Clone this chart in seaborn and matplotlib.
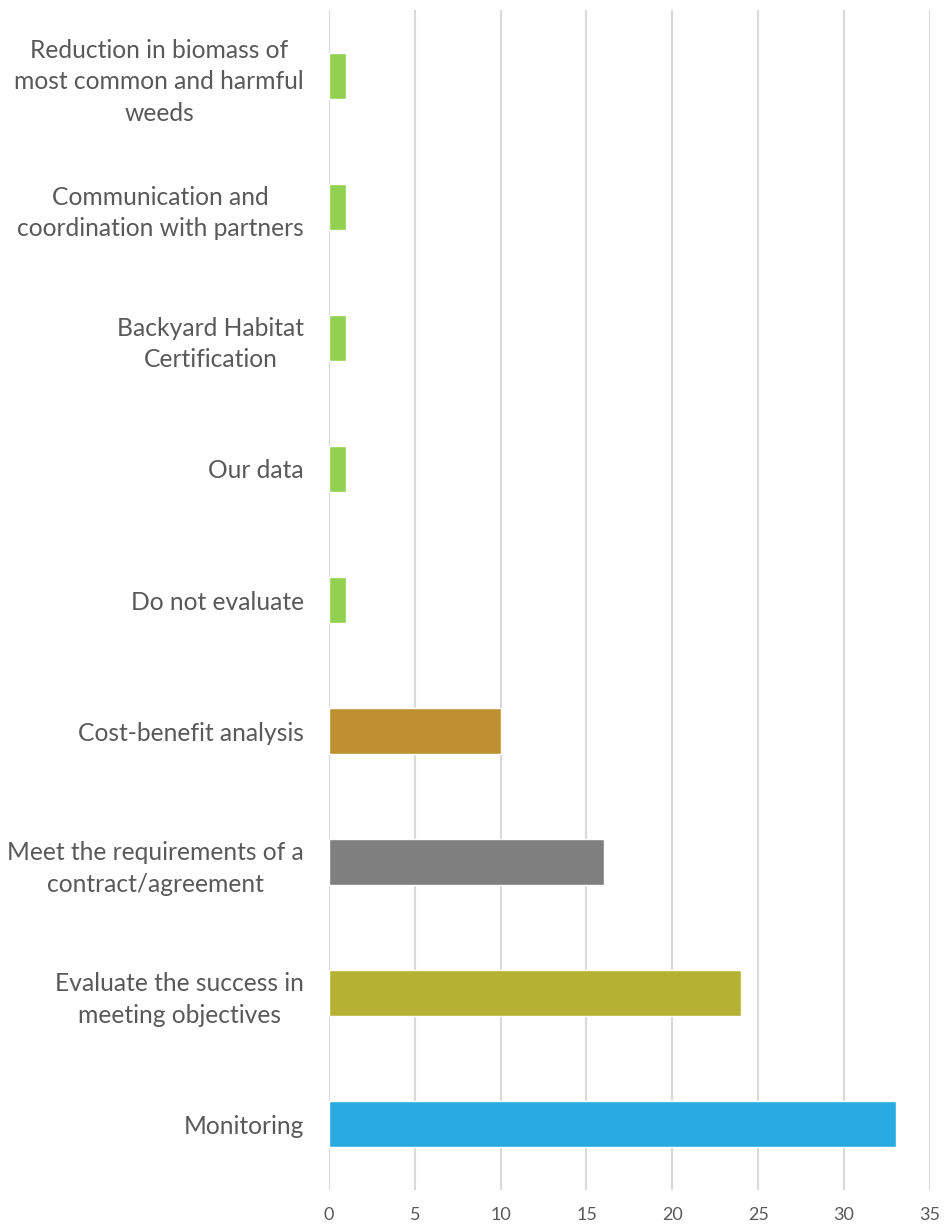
import matplotlib
matplotlib.use("Agg")
import matplotlib.pyplot as plt
import seaborn as sns
import pandas as pd

categories = [
    "Reduction in biomass of\nmost common and harmful\nweeds",
    "Communication and\ncoordination with partners",
    "Backyard Habitat\nCertification",
    "Our data",
    "Do not evaluate",
    "Cost-benefit analysis",
    "Meet the requirements of a\ncontract/agreement",
    "Evaluate the success in\nmeeting objectives",
    "Monitoring",
]
counts = [1, 1, 1, 1, 1, 10, 16, 24, 33]
bar_colors = ["#92D050", "#92D050", "#92D050", "#92D050", "#92D050",
              "#BF9030", "#7F7F7F", "#B5B233", "#29ABE2"]
x_ticks = [0, 5, 10, 15, 20, 25, 30, 35]

sns.set_theme(style="white")
plt.rcParams["font.family"] = ["Lato", "DejaVu Sans"]

df = pd.DataFrame({"category": categories, "count": counts})
palette = dict(zip(categories, bar_colors))

fig = plt.figure(figsize=(9.44, 12.25), dpi=100)
ax = fig.add_axes([0.3485, 0.0286, 0.6365, 0.9632])

sns.barplot(data=df, y="category", x="count", hue="category", palette=palette,
            order=categories, hue_order=categories, orient="h", width=0.35,
            dodge=False, legend=False, saturation=1, ax=ax)

ax.set_xlim(0, 35)
ax.set_ylim(len(categories) - 0.5, -0.5)
ax.set_xticks(x_ticks)
ax.set_xlabel("")
ax.set_ylabel("")
ax.xaxis.grid(True, color="#D9D9D9", linewidth=1.5)
ax.set_axisbelow(True)
for side in ["top", "right", "bottom", "left"]:
    ax.spines[side].set_visible(False)
ax.axvline(0, color="#D9D9D9", linewidth=1.5, zorder=0)

ax.tick_params(axis="x", length=0, pad=12, labelsize=13, labelcolor="#595959")
ax.tick_params(axis="y", length=0, pad=18, labelsize=17.7, labelcolor="#595959")
for lbl in ax.get_yticklabels():
    lbl.set_multialignment("center")
    lbl.set_linespacing(1.45)

fig.savefig("out.png", dpi=100)
